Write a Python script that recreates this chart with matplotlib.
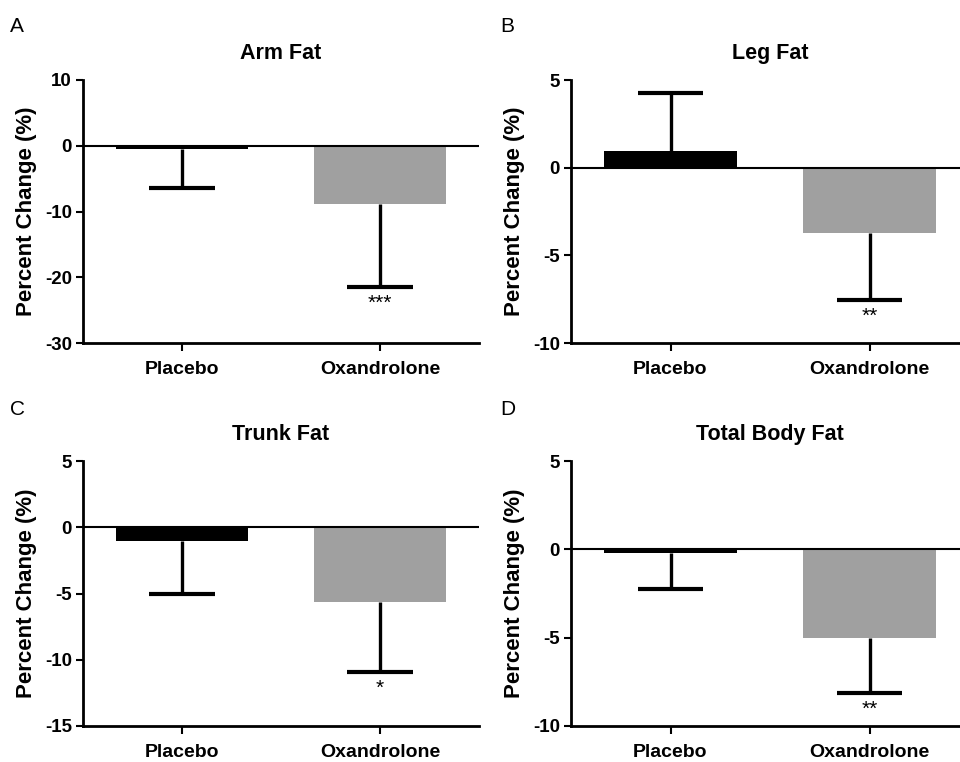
"""
Percent change in regional fat mass, placebo vs oxandrolone (four panels).
"""
import matplotlib
matplotlib.use("Agg")
import matplotlib.pyplot as plt

plt.rcParams["font.family"] = ["Liberation Sans", "DejaVu Sans"]
plt.rcParams["axes.unicode_minus"] = False

groups = ["Placebo", "Oxandrolone"]
bar_colors = ["#000000", "#a0a0a0"]

panel_letters = ["A", "B", "C", "D"]
titles = ["Arm Fat", "Leg Fat", "Trunk Fat", "Total Body Fat"]

# mean percent change per group
arm_mean = [-0.5, -8.9]
leg_mean = [0.93, -3.73]
trunk_mean = [-1.05, -5.65]
total_mean = [-0.2, -5.04]

# error bar length (drawn away from zero only)
arm_err = [6.0, 12.6]
leg_err = [3.33, 3.82]
trunk_err = [3.98, 5.25]
total_err = [2.06, 3.11]

arm_sig = ["", "***"]
leg_sig = ["", "**"]
trunk_sig = ["", "*"]
total_sig = ["", "**"]

y_limits = [(-30, 10), (-10, 5), (-15, 5), (-10, 5)]
y_ticks = [[-30, -20, -10, 0, 10], [-10, -5, 0, 5], [-15, -10, -5, 0, 5], [-10, -5, 0, 5]]


def draw_panel(ax, title, means, errs, sigs, ylim, yticks):
    x = list(range(len(groups)))
    ax.bar(x, means, width=0.67, color=bar_colors, zorder=2)
    ax.axhline(0, color="black", lw=1.5, zorder=3)

    for xi, m, e, s in zip(x, means, errs, sigs):
        end = m + e if m >= 0 else m - e
        ax.vlines(xi, m, end, color="black", lw=2.4, zorder=3)
        ax.hlines(end, xi - 0.165, xi + 0.165, color="black", lw=3, zorder=3)
        if s:
            ax.annotate(s, xy=(xi, end), xytext=(0, -5), textcoords="offset points",
                        ha="center", va="top", fontsize=15)

    ax.set_xlim(-0.5, 1.5)
    ax.set_ylim(*ylim)
    ax.set_yticks(yticks)
    ax.set_xticks(x)
    ax.set_xticklabels(groups, fontsize=14, fontweight="bold")
    for lab in ax.get_yticklabels():
        lab.set_fontweight("bold")
        lab.set_fontsize(13.5)
    ax.set_title(title, fontsize=15.5, fontweight="bold", pad=15)
    ax.set_ylabel("Percent Change (%)", fontsize=16, fontweight="bold", labelpad=6)

    for side in ["top", "right"]:
        ax.spines[side].set_visible(False)
    for side in ["left", "bottom"]:
        ax.spines[side].set_linewidth(2)
    ax.tick_params(axis="y", length=5, width=1.5, pad=3)
    ax.tick_params(axis="x", length=6, width=1.5, pad=7)


def main():
    fig = plt.figure(figsize=(9.6, 7.62), dpi=100)

    positions = [
        [83 / 960, 1 - 343 / 762, 396 / 960, 263 / 762],
        [571 / 960, 1 - 343 / 762, 398 / 960, 263 / 762],
        [83 / 960, 1 - 726 / 762, 396 / 960, 265 / 762],
        [571 / 960, 1 - 726 / 762, 398 / 960, 265 / 762],
    ]
    letter_pos = [(10, 32), (500, 32), (10, 415), (500, 415)]

    means = [arm_mean, leg_mean, trunk_mean, total_mean]
    errs = [arm_err, leg_err, trunk_err, total_err]
    sigs = [arm_sig, leg_sig, trunk_sig, total_sig]

    for i in range(4):
        ax = fig.add_axes(positions[i])
        draw_panel(ax, titles[i], means[i], errs[i], sigs[i], y_limits[i], y_ticks[i])
        lx, ly = letter_pos[i]
        fig.text(lx / 960, 1 - ly / 762, panel_letters[i], fontsize=15, va="baseline")

    fig.savefig("out.png", dpi=100)


if __name__ == "__main__":
    main()
